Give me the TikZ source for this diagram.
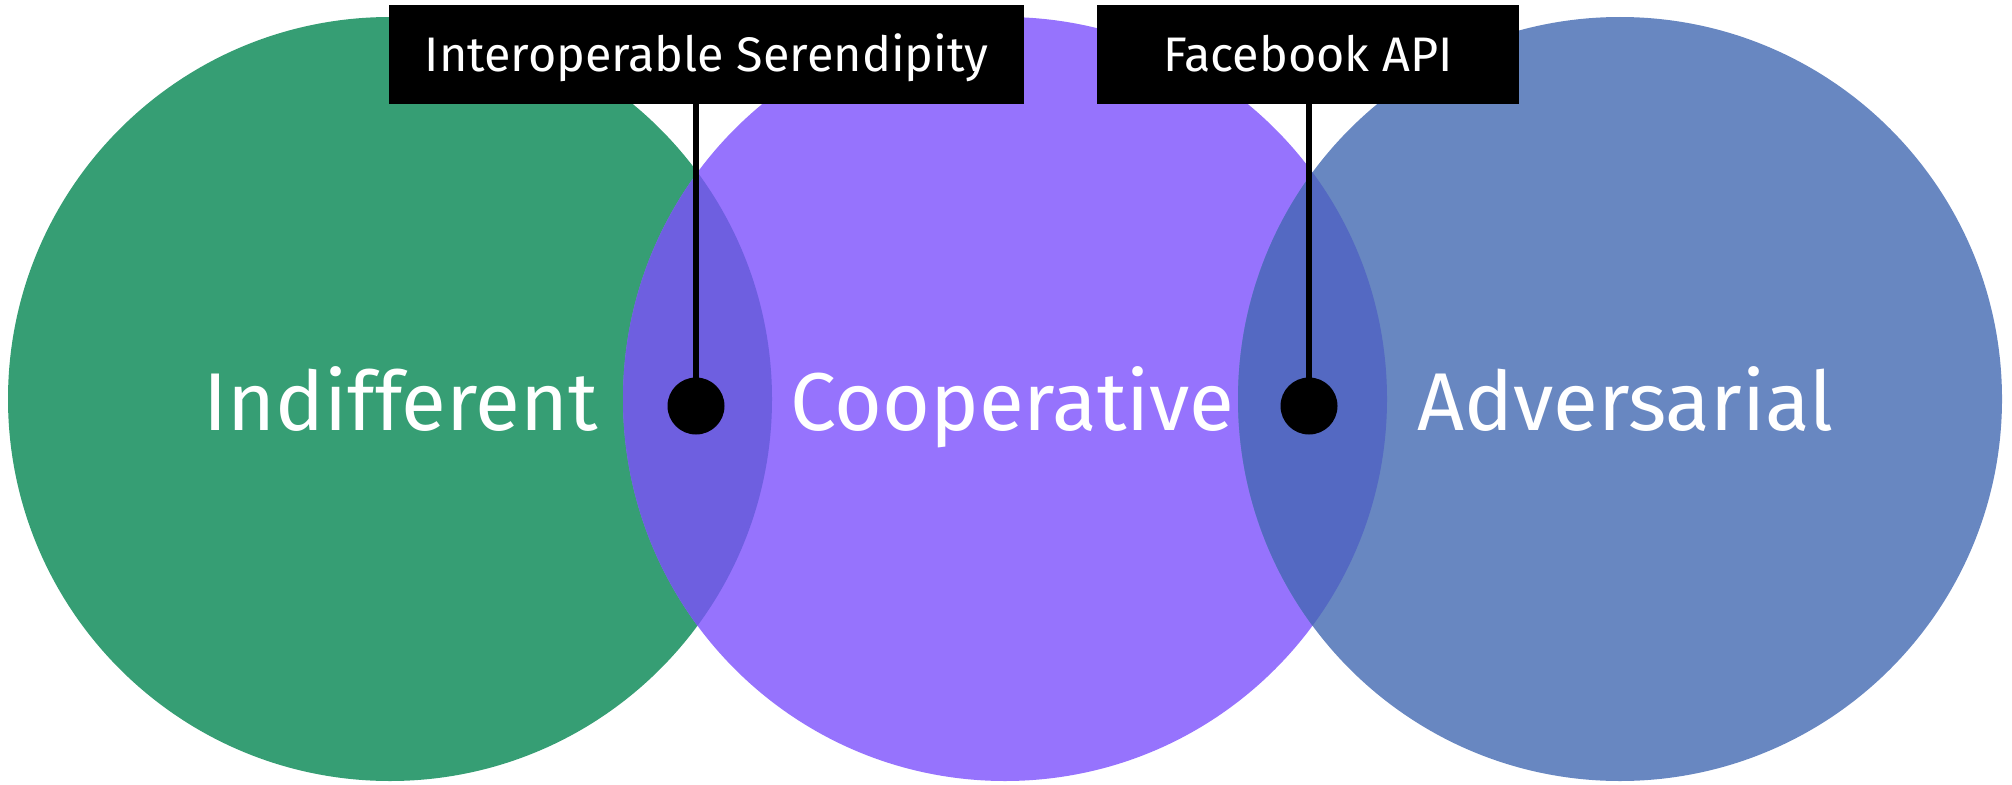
\documentclass[tikz,border=0pt]{standalone}
\usepackage{fontspec}
\setmainfont{Fira Sans}
\definecolor{cgreen}{HTML}{369E74}
\definecolor{cpurple}{HTML}{9673FD}
\definecolor{cblue}{HTML}{6887C1}
\definecolor{lensa}{HTML}{6E5FE0}
\definecolor{lensb}{HTML}{5469C2}
\tikzset{
  biglabel/.style={text=white, font=\fontsize{82}{90}\selectfont, anchor=base west, inner sep=0pt},
  tagbox/.style={fill=black, text=white, font=\fontsize{48.5}{56}\selectfont, minimum height=99pt, text height=33.4pt, text depth=0pt, inner sep=0pt},
  pin/.style={circle, fill=black, minimum size=57pt, inner sep=0pt},
  pinline/.style={line width=6pt, draw=black}
}
\begin{document}
\begin{tikzpicture}[x=1pt,y=-1pt]
\useasboundingbox (0,0) rectangle (2012,784);
\coordinate (cA) at (390,399);
\coordinate (cB) at (1005,399);
\coordinate (cC) at (1620,399);
\fill[cgreen] (cA) circle (382);
\fill[cpurple] (cB) circle (382);
\fill[cblue] (cC) circle (382);
\begin{scope}
  \clip (cA) circle (382);
  \fill[lensa] (cB) circle (382);
\end{scope}
\begin{scope}
  \clip (cC) circle (382);
  \fill[lensb] (cB) circle (382);
\end{scope}
\node[biglabel] (ind) at (203,430) {Indifferent};
\node[biglabel] (coop) at (790,430) {Cooperative};
\node[biglabel] (adv) at (1417,430) {Adversarial};
\node[pin] (d1) at (696,406) {};
\node[pin] (d2) at (1309,406) {};
\node[tagbox, minimum width=635pt] (t1) at (706.5,54.5) {Interoperable Serendipity};
\node[tagbox, minimum width=422pt] (t2) at (1308,54.5) {Facebook API};
\draw[pinline] (t1.south -| d1) -- (d1.center);
\draw[pinline] (t2.south -| d2) -- (d2.center);
\end{tikzpicture}
\end{document}
